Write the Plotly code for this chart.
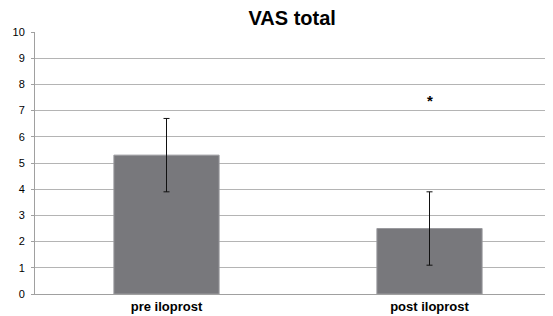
import plotly.graph_objects as go

categories = ["pre iloprost", "post iloprost"]
values = [5.3, 2.5]
errors = [1.4, 1.4]
y_ticks = list(range(0, 11))
star_value = 7.4

FONT = "Liberation Sans, Arial, sans-serif"

fig = go.Figure()
fig.add_trace(go.Bar(
    x=categories, y=values,
    marker=dict(color="#78787c", line=dict(color="#9a9a9e", width=1)),
    error_y=dict(type="data", array=errors, visible=True, color="#111111", thickness=1, width=3),
    width=0.4,
))
fig.add_annotation(x=categories[1], y=star_value, text="<b>*</b>", showarrow=False,
                   font=dict(family=FONT, size=15, color="#000000"))
# page body has an 8px margin; the plot area runs slightly past the right edge like the reference
fig.update_layout(
    width=553, height=308,
    margin=dict(l=27, r=0, t=24, b=22),
    paper_bgcolor="white", plot_bgcolor="white",
    title=dict(text="<b>VAS total</b>", x=0.514, xanchor="center", y=0.99, yanchor="top",
               font=dict(family=FONT, size=20, color="#000000")),
    showlegend=False,
    xaxis=dict(showgrid=False, showline=True, linecolor="#a0a0a0", linewidth=1,
               tickvals=categories, ticktext=["<b>%s</b>" % c for c in categories],
               tickfont=dict(family=FONT, size=13, color="#000000"),
               ticks=""),
    yaxis=dict(range=[0, 10], tickvals=y_ticks, showgrid=True, gridcolor="#b4b4b4", gridwidth=1,
               showline=True, linecolor="#a0a0a0", linewidth=1, ticks="outside", ticklen=3,
               tickcolor="#a0a0a0", ticklabelstandoff=4,
               tickfont=dict(family=FONT, size=11, color="#000000"),
               zeroline=False),
)
fig.write_html("out.html")
